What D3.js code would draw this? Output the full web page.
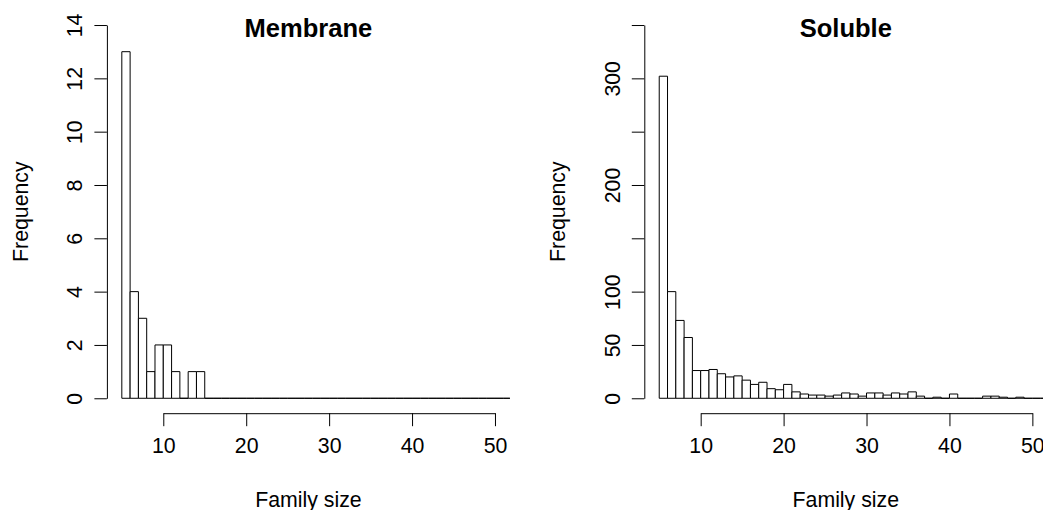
<!DOCTYPE html>
<html>
<head>
<meta charset="utf-8">
<script src="https://cdn.jsdelivr.net/npm/d3@7"></script>
<style>
  body { margin: 0; background: #fff; }
  svg { display: block; font-family: "Liberation Sans", Arial, sans-serif; }
</style>
</head>
<body>
<div id="chart"></div>
<script>
// bins are [start, start+1) family sizes, from 5 up to 52
const binStarts = d3.range(5, 52);
const membraneCounts = [13, 4, 3, 1, 2, 2, 1, 0, 1, 1,
  0, 0, 0, 0, 0, 0, 0, 0, 0, 0, 0, 0, 0, 0, 0, 0, 0, 0, 0, 0,
  0, 0, 0, 0, 0, 0, 0, 0, 0, 0, 0, 0, 0, 0, 0, 0, 0];
const solubleCounts = [302, 100, 73, 57, 26, 26, 27, 23, 20, 21,
  17, 13, 15, 9, 8, 13, 6, 4, 3, 3, 2, 3, 5, 4, 2, 5, 5, 3, 5, 4,
  6, 2, 0, 1, 0, 4, 0, 0, 0, 2, 2, 1, 0, 1, 0, 0, 0];

const xTicks = [10, 20, 30, 40, 50];
const membraneYTicks = [0, 2, 4, 6, 8, 10, 12, 14];
const solubleYTicks = [0, 50, 100, 150, 200, 250, 300, 350];
const solubleYLabels = [0, 50, 100, 200, 300]; // R drops the labels that would overlap

const width = 1043, height = 510;
const svg = d3.select('#chart').append('svg').attr('width', width).attr('height', height);

// plot region (R's plt), left panel; right panel is shifted by panelShift
const plotLeft = 106.9, plotRight = 509.9, plotTop = 10.1, plotBottom = 413.2;
const panelShift = 537.4;
const baseFont = 21.3;

const panels = [
  { title: 'Membrane', counts: membraneCounts, ylim: [0, 14], yTicks: membraneYTicks, yLabels: membraneYTicks },
  { title: 'Soluble', counts: solubleCounts, ylim: [0, 350], yTicks: solubleYTicks, yLabels: solubleYLabels }
];

panels.forEach((p, i) => {
  const g = svg.append('g').attr('transform', `translate(${i * panelShift},0)`);

  // usr range is the limits extended by 4% each side
  const xlim = [5, 50];
  const xpad = (xlim[1] - xlim[0]) * 0.04;
  const ypad = (p.ylim[1] - p.ylim[0]) * 0.04;
  const x = d3.scaleLinear().domain([xlim[0] - xpad, xlim[1] + xpad]).range([plotLeft, plotRight]);
  const y = d3.scaleLinear().domain([p.ylim[0] - ypad, p.ylim[1] + ypad]).range([plotBottom, plotTop]);

  const clipId = 'clip' + i;
  g.append('clipPath').attr('id', clipId)
    .append('rect')
    .attr('x', plotLeft).attr('y', plotTop)
    .attr('width', plotRight - plotLeft).attr('height', plotBottom - plotTop);

  // paths instead of rects so that empty bins still show their bottom edge
  g.append('g').attr('clip-path', `url(#${clipId})`)
    .selectAll('path')
    .data(binStarts.map((b, k) => ({ b, n: p.counts[k] })))
    .enter().append('path')
    .attr('d', (d) => {
      const x0 = x(d.b), x1 = x(d.b + 1), y0 = y(0), y1 = y(d.n);
      return `M${x0},${y0}V${y1}H${x1}V${y0}Z`;
    })
    .attr('fill', 'white')
    .attr('stroke', 'black')
    .attr('stroke-width', 1);

  // x axis, line only from first to last tick like R
  const xa = d3.scaleLinear().domain([xTicks[0], xTicks[xTicks.length - 1]])
    .range([x(xTicks[0]), x(xTicks[xTicks.length - 1])]);
  const xAxis = g.append('g').attr('transform', `translate(0,${plotBottom})`)
    .call(d3.axisBottom(xa).tickValues(xTicks).tickSize(13).tickSizeOuter(0));
  xAxis.selectAll('text').attr('y', 39.7).attr('dy', null)
    .attr('font-size', baseFont).attr('fill', 'black');

  // y axis
  const ya = d3.scaleLinear().domain([p.yTicks[0], p.yTicks[p.yTicks.length - 1]])
    .range([y(p.yTicks[0]), y(p.yTicks[p.yTicks.length - 1])]);
  const yAxis = g.append('g').attr('transform', `translate(${plotLeft},0)`)
    .call(d3.axisLeft(ya).tickValues(p.yTicks).tickSize(12.5).tickSizeOuter(0)
      .tickFormat((d) => (p.yLabels.includes(d) ? d : '')));
  yAxis.selectAll('text')
    .attr('x', null).attr('dy', null)
    .attr('transform', 'translate(-24.5,0) rotate(-90)')
    .attr('text-anchor', 'middle')
    .attr('font-size', baseFont).attr('fill', 'black');

  svg.selectAll('.domain, .tick line').attr('stroke', 'black');

  const cx = (plotLeft + plotRight) / 2;
  const cy = (plotTop + plotBottom) / 2;

  g.append('text')
    .attr('x', cx).attr('y', 36.7)
    .attr('text-anchor', 'middle')
    .attr('font-size', baseFont * 1.2)
    .attr('font-weight', 'bold')
    .text(p.title);

  g.append('text')
    .attr('x', cx).attr('y', 507)
    .attr('text-anchor', 'middle')
    .attr('font-size', baseFont)
    .text('Family size');

  g.append('text')
    .attr('transform', `translate(${plotLeft - 78.9},${cy}) rotate(-90)`)
    .attr('text-anchor', 'middle')
    .attr('font-size', baseFont)
    .text('Frequency');
});
</script>
</body>
</html>
